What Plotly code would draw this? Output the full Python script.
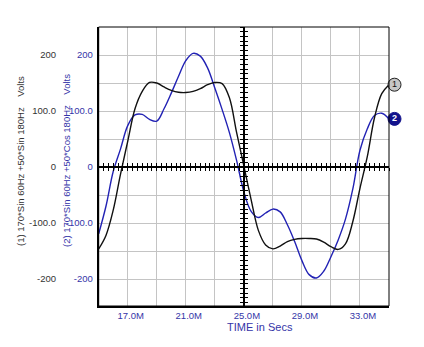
import plotly.graph_objects as go

# Time samples in milliseconds
time_ms = [15.0, 15.5, 16.0, 16.5, 17.0, 17.5, 18.0, 18.5, 19.0, 19.5,
           20.0, 20.5, 21.0, 21.5, 22.0, 22.5, 23.0, 23.5, 24.0, 24.5,
           25.0, 25.5, 26.0, 26.5, 27.0, 27.5, 28.0, 28.5, 29.0, 29.5,
           30.0, 30.5, 31.0, 31.5, 32.0, 32.5, 33.0, 33.5, 34.0, 34.5, 35.0]

# (1) 170*Sin 60Hz + 50*Sin 180Hz, volts
volts_sin = [-146, -122, -77, -13, 46, 104, 135, 151, 150, 143,
             137, 133.5, 133, 135, 140, 147, 151, 149, 124, 62,
             2, -58, -113, -139, -146, -141, -133, -129, -127.5, -127.5,
             -128.5, -134, -142, -147, -137, -98, -38, 18, 88, 131, 147]

# (2) 170*Sin 60Hz + 50*Cos 180Hz, volts
volts_cos = [-119, -70, -8, 32, 74, 93, 94, 85, 82, 104,
             132, 162, 190, 203, 198, 177, 141, 103, 62, 12,
             -44, -79, -90, -82, -75, -80, -103, -133, -167, -192,
             -198, -186, -160, -130, -93, -40, 30, 68, 92, 96, 86]

x_ticks = [17, 19, 21, 23, 25, 27, 29, 31, 33]
x_labels = ["17.0M", "", "21.0M", "", "25.0M", "", "29.0M", "", "33.0M"]
y_ticks = [-200, -150, -100, -50, 0, 50, 100, 150, 200]
y_labels = ["-200", "", "-100.0", "", "0", "", "100.0", "", "200"]

X_RANGE = [15, 35]
Y_RANGE = [-248, 250]

W, H = 424, 347
PLOT_L, PLOT_R = 98.7, 389.0
DOM = [PLOT_L / W, PLOT_R / W]
BADGE_SHIFT = 5.5 / W          # badges sit just right of the frame

BLACK = "#111111"
BLUE = "#2222b4"
BLUE_TXT = "#3535a8"
GRID = "#c4c4c4"
FONT = "Liberation Sans, Arial, sans-serif"

fig = go.Figure()

fig.add_trace(go.Scatter(x=time_ms, y=volts_sin, mode="lines",
                         line=dict(color=BLACK, width=1.4, shape="spline", smoothing=1.0),
                         yaxis="y2", showlegend=False, hoverinfo="skip"))
fig.add_trace(go.Scatter(x=time_ms, y=volts_cos, mode="lines",
                         line=dict(color=BLUE, width=1.4, shape="spline", smoothing=1.0),
                         showlegend=False, hoverinfo="skip"))

# Empty traces so the centre cross-hair axes get drawn
fig.add_trace(go.Scatter(x=[], y=[], xaxis="x2", yaxis="y3", showlegend=False, hoverinfo="skip"))
fig.add_trace(go.Scatter(x=[], y=[], xaxis="x3", yaxis="y4", showlegend=False, hoverinfo="skip"))

# Numbered trace badges at the end of each curve (own, slightly shifted subplot)
fig.add_trace(go.Scatter(x=[time_ms[-1]], y=[volts_sin[-1]], mode="markers+text",
                         marker=dict(size=13, color="#c6c6c6", line=dict(color="#222222", width=1)),
                         text=["1"], textposition="middle center",
                         textfont=dict(size=9, color="#111111", family=FONT),
                         xaxis="x5", yaxis="y5",
                         cliponaxis=False, showlegend=False, hoverinfo="skip"))
fig.add_trace(go.Scatter(x=[time_ms[-1]], y=[volts_cos[-1]], mode="markers+text",
                         marker=dict(size=13, color="#12128c", line=dict(color="#12128c", width=1)),
                         text=["<b>2</b>"], textposition="middle center",
                         textfont=dict(size=9, color="white", family=FONT),
                         xaxis="x5", yaxis="y5",
                         cliponaxis=False, showlegend=False, hoverinfo="skip"))

zero_pos = (0 - Y_RANGE[0]) / (Y_RANGE[1] - Y_RANGE[0])
mid_pos = DOM[0] + (25 - X_RANGE[0]) / (X_RANGE[1] - X_RANGE[0]) * (DOM[1] - DOM[0])

cross_x = dict(overlaying="x", anchor="free", position=zero_pos, range=X_RANGE,
               showline=True, linecolor="black", linewidth=1.5, tick0=15, dtick=1 / 3,
               ticklen=3, tickwidth=1, tickcolor="black", showticklabels=False,
               showgrid=False, zeroline=False)
cross_y = dict(overlaying="y", anchor="free", position=mid_pos, range=Y_RANGE,
               showline=True, linecolor="black", linewidth=1.5, tick0=0, dtick=50 / 6,
               ticklen=3, tickwidth=1, tickcolor="black", showticklabels=False,
               showgrid=False, zeroline=False)

fig.update_layout(
    width=W, height=H,
    margin=dict(l=0, r=0, t=27, b=41),
    paper_bgcolor="white", plot_bgcolor="rgba(0,0,0,0)",
    font=dict(family=FONT, size=10),
    xaxis=dict(domain=DOM, range=X_RANGE, tickvals=x_ticks, ticktext=x_labels,
               showgrid=True, gridcolor=GRID, gridwidth=1, zeroline=False,
               showline=True, linecolor="black", linewidth=2, ticks="",
               tickfont=dict(size=9.5, color=BLUE_TXT), ticklabelshift=3),
    yaxis=dict(range=Y_RANGE, tickvals=y_ticks, ticktext=y_labels,
               showgrid=True, gridcolor=GRID, gridwidth=1, zeroline=False,
               showline=True, linecolor="black", linewidth=2, ticks="",
               tickfont=dict(size=9.5, color=BLUE_TXT), ticklabelstandoff=2),
    yaxis2=dict(overlaying="y", anchor="free", position=56 / W, side="left",
                range=Y_RANGE, tickvals=y_ticks, ticktext=y_labels,
                showgrid=False, zeroline=False, showline=False, ticks="",
                tickfont=dict(size=9.5, color="#333333"), ticklabelstandoff=0),
    xaxis2=dict(cross_x, ticks="outside"),
    xaxis3=dict(cross_x, ticks="inside"),
    yaxis3=dict(cross_y, ticks="outside"),
    yaxis4=dict(cross_y, ticks="inside"),
    xaxis5=dict(domain=[DOM[0] + BADGE_SHIFT, DOM[1] + BADGE_SHIFT], range=X_RANGE,
                anchor="y5", visible=False),
    yaxis5=dict(domain=[0, 1], range=Y_RANGE, anchor="x5", visible=False),
)

# Thin frame around the plotting area
fig.add_shape(type="rect", xref="x domain", yref="y domain", x0=0, x1=1, y0=0, y1=1,
              line=dict(color="black", width=1), layer="above")

title_y = (306 - 161) / (306 - 27)
fig.add_annotation(text="(1) 170*Sin 60Hz +50*Sin 180Hz\u00a0\u00a0\u00a0 Volts",
                   x=20 / W, y=title_y, xref="paper", yref="paper", textangle=-90,
                   xanchor="center", yanchor="middle",
                   showarrow=False, font=dict(size=9.5, color="#333333"))
fig.add_annotation(text="(2) 170*Sin 60Hz +50*Cos 180Hz\u00a0\u00a0\u00a0 Volts",
                   x=66 / W, y=title_y, xref="paper", yref="paper", textangle=-90,
                   xanchor="center", yanchor="middle",
                   showarrow=False, font=dict(size=9.5, color=BLUE_TXT))
fig.add_annotation(text="TIME in Secs", x=224.7 / W, y=(306 - 327) / (306 - 27),
                   xref="paper", yref="paper", xanchor="left", yanchor="middle",
                   showarrow=False, font=dict(size=11, color=BLUE_TXT))

fig.write_html("out.html")
